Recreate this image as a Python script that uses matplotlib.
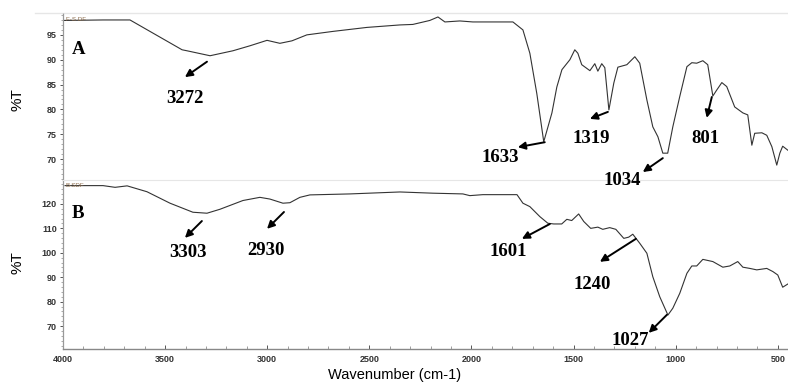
import matplotlib
matplotlib.use("Agg")
import matplotlib.pyplot as plt
from matplotlib.ticker import MultipleLocator

# spectrum A (F-S DF)
wn_a = [4000, 3804, 3672, 3417, 3393, 3280, 3168, 3085, 3001, 2938, 2879, 2806,
        2678, 2512, 2350, 2287, 2204, 2164, 2130, 2057, 1993, 1797, 1748, 1714,
        1680, 1646, 1606, 1582, 1557, 1518, 1494, 1479, 1460, 1420, 1396, 1381,
        1362, 1347, 1327, 1303, 1283, 1239, 1200, 1176, 1141, 1112, 1087, 1063,
        1039, 1014, 980, 945, 921, 897, 867, 843, 818, 799, 774, 750, 711, 671,
        647, 627, 613, 578, 554, 529, 505, 490, 476, 451]
t_a = [97.9, 98.0, 98.0, 92.0, 91.8, 90.8, 91.8, 92.8, 93.9, 93.3, 93.8, 95.0,
       95.7, 96.5, 97.0, 97.1, 97.9, 98.6, 97.6, 97.8, 97.6, 97.6, 96.0, 91.3,
       83.2, 73.5, 79.3, 84.5, 88.0, 90.0, 92.0, 91.3, 89.0, 87.8, 89.2, 87.7,
       89.2, 88.4, 79.9, 85.3, 88.5, 89.0, 90.6, 89.3, 81.9, 76.5, 74.5, 71.2,
       71.2, 76.5, 82.6, 88.6, 89.4, 89.3, 89.8, 89.0, 82.7, 83.9, 85.4, 84.6,
       80.5, 79.3, 78.9, 72.8, 75.2, 75.3, 74.8, 72.5, 68.8, 71.2, 72.6, 71.8]

# spectrum B (B-SDF)
wn_b = [3990, 3804, 3745, 3686, 3589, 3476, 3364, 3295, 3232, 3119, 3036, 2987,
        2923, 2889, 2840, 2791, 2595, 2350, 2189, 2042, 2008, 1944, 1777, 1748,
        1714, 1665, 1626, 1597, 1558, 1533, 1509, 1475, 1450, 1416, 1381, 1357,
        1323, 1293, 1254, 1230, 1210, 1176, 1141, 1112, 1078, 1038, 1014, 980,
        945, 921, 897, 867, 818, 769, 735, 696, 671, 637, 603, 554, 524, 500,
        476, 451]
t_b = [127.5, 127.5, 126.8, 127.4, 125.0, 120.3, 116.6, 116.2, 117.8, 121.4,
       122.7, 122.0, 120.3, 120.5, 122.7, 123.7, 124.1, 124.9, 124.4, 124.1,
       123.4, 123.8, 123.8, 120.3, 118.9, 114.8, 112.1, 111.8, 111.8, 113.7,
       113.2, 115.9, 112.8, 110.0, 110.5, 109.6, 110.3, 109.6, 105.9, 106.4,
       107.6, 103.9, 99.8, 90.2, 82.0, 74.5, 77.3, 83.4, 91.6, 94.6, 94.6, 97.3,
       96.4, 94.1, 94.6, 96.4, 94.1, 93.6, 93.0, 93.6, 92.3, 90.9, 85.9, 87.2]

# peak labels: text, text position, arrow tail, arrow head
labels_a = ["3272", "1633", "1319", "1034", "801"]
text_a = [(3403, 82.1), (1861, 70.4), (1415, 74.2), (1264, 65.6), (853, 74.2)]
tail_a = [(3295, 89.6), (1641, 73.4), (1332, 79.5), (1063, 70.2), (823, 82.5)]
head_a = [(3403, 86.5), (1773, 72.4), (1420, 78.1), (1161, 67.4), (848, 78.3)]

labels_b = ["3303", "2930", "1601", "1240", "1027"]
text_b = [(3388, 100.3), (3006, 101.1), (1822, 100.7), (1411, 87.2), (1220, 63.9)]
tail_b = [(3320, 113.0), (2918, 116.7), (1616, 111.8), (1195, 105.7), (1043, 74.6)]
head_b = [(3403, 106.1), (3001, 109.8), (1753, 105.7), (1371, 96.3), (1132, 67.2)]

plt.rcParams['font.family'] = ['Liberation Sans', 'DejaVu Sans']

fig = plt.figure(figsize=(7.88, 3.89), dpi=100)
ax_a = fig.add_axes([63/788, 1-180/389, 1-63/788, (180-13)/389])
ax_b = fig.add_axes([63/788, 1-349/389, 1-63/788, (349-180)/389])
# panel A sits on top so its lowest label can run over panel B
ax_a.set_zorder(2)
ax_a.patch.set_visible(False)


def style_axis(ax, ylim, major, minor, show_x):
    ax.set_xlim(4000, 450)
    ax.set_ylim(*ylim)
    for side in ['top', 'right']:
        ax.spines[side].set_visible(False)
    ax.spines['left'].set_color('#999999')
    ax.spines['left'].set_linestyle((0, (1, 1)))
    ax.spines['left'].set_linewidth(0.9)
    ax.yaxis.set_major_locator(MultipleLocator(major))
    ax.yaxis.set_minor_locator(MultipleLocator(minor))
    ax.xaxis.set_major_locator(MultipleLocator(500))
    ax.xaxis.set_minor_locator(MultipleLocator(100))
    ax.tick_params(axis='y', which='major', length=2.5, width=0.7,
                   color='#555555', labelsize=6.5, labelcolor='#333333', pad=2)
    ax.tick_params(axis='y', which='minor', length=1.2, width=0.5, color='#888888')
    if show_x:
        ax.spines['bottom'].set_color('#888888')
        ax.spines['bottom'].set_linewidth(1.0)
        ax.tick_params(axis='x', which='major', direction='in', length=3,
                       width=0.7, color='#555555', labelsize=6.5,
                       labelcolor='#333333', pad=4)
        ax.tick_params(axis='x', which='minor', direction='in', length=2,
                       width=0.5, color='#777777')
    else:
        ax.spines['bottom'].set_color('#e6e6e6')
        ax.tick_params(axis='x', which='both', length=0, labelbottom=False)
    for lab in ax.get_yticklabels() + ax.get_xticklabels():
        lab.set_fontweight('bold')


style_axis(ax_a, (65.8, 99.4), 5, 1, False)
style_axis(ax_b, (60.6, 129.8), 10, 2, True)

# light frame line along the top of panel A
fig.add_artist(plt.Line2D([0.045, 1], [1-13/389, 1-13/389], color='#e6e6e6', lw=1.0))

ax_a.plot(wn_a, t_a, color='#333333', lw=0.8)
ax_b.plot(wn_b, t_b, color='#333333', lw=0.8)

serif = dict(family='Liberation Serif', weight='bold', fontsize=13.5, color='black')


def add_peaks(ax, labels, texts, tails, heads):
    for lab, txt, tl, hd in zip(labels, texts, tails, heads):
        ax.annotate('', xy=hd, xytext=tl, annotation_clip=False,
                    arrowprops=dict(arrowstyle='-|>', color='black', lw=1.4,
                                    mutation_scale=11, shrinkA=0, shrinkB=0))
        ax.text(txt[0], txt[1], lab, ha='center', va='center', clip_on=False, **serif)


add_peaks(ax_a, labels_a, text_a, tail_a, head_a)
add_peaks(ax_b, labels_b, text_b, tail_b, head_b)

ax_a.text(0.012, 0.78, 'A', transform=ax_a.transAxes, ha='left', va='center', **serif)
ax_b.text(0.012, 0.80, 'B', transform=ax_b.transAxes, ha='left', va='center', **serif)
ax_a.text(0.004, 0.975, 'F-S DF', transform=ax_a.transAxes, fontsize=4.5,
          color='#8a6a4a', ha='left', va='top')
ax_b.text(0.004, 0.985, 'B-SDF', transform=ax_b.transAxes, fontsize=4.5,
          color='#8a6a4a', ha='left', va='top')

fig.text(18/788, 1-100/389, '%T', rotation=90, ha='center', va='center', fontsize=11)
fig.text(18/788, 1-263/389, '%T', rotation=90, ha='center', va='center', fontsize=11)
fig.text(395/788, 1-375/389, 'Wavenumber (cm-1)', ha='center', va='center', fontsize=10.5)

fig.savefig('out.png', dpi=100, facecolor='white')
